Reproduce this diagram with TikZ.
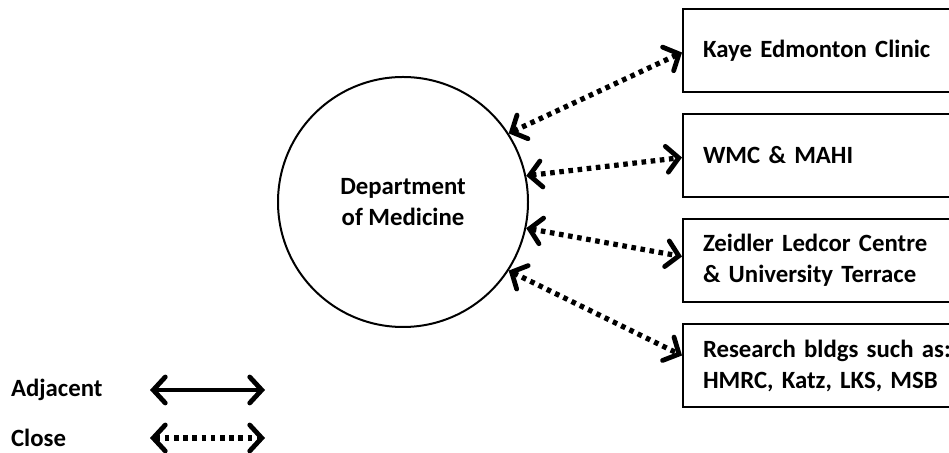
\documentclass[tikz,border=0pt]{standalone}
\usepackage{fontspec}
\setmainfont{Carlito}
\usetikzlibrary{positioning,arrows.meta}

\tikzset{
  place/.style={draw, line width=1pt, minimum height=41.5pt, text width=140pt,
    inner xsep=10pt, align=left, anchor=north west},
  barb/.tip={Straight Barb[length=6pt,width=13pt,line width=2.4pt,line cap=round]},
  dotlink/.style={line width=2.6pt, dash pattern=on 2.3pt off 2.3pt, barb-barb},
  adjlink/.style={line width=2.4pt, barb-barb}
}

\begin{document}
\begin{tikzpicture}[x=0.5pt,y=-0.5pt,font=\fontsize{12.4}{15.5}\selectfont\bfseries]
\useasboundingbox (0,0) rectangle (949,453);

\node[draw, circle, line width=1pt, minimum size=125pt, align=center] (dept) at (403,202) {Department\\of Medicine};

\node[place] (kec) at (682,8) {Kaye Edmonton Clinic};
\node[place, below=10pt of kec.south west, anchor=north west] (wmc) {WMC \& MAHI};
\node[place, below=10pt of wmc.south west, anchor=north west] (zlc) {Zeidler Ledcor Centre\\\& University Terrace};
\node[place, below=10pt of zlc.south west, anchor=north west] (res) {Research bldgs such as:\\HMRC, Katz, LKS, MSB};

\draw[dotlink] (dept.33) -- ([yshift=-1pt]kec.west);
\draw[dotlink] (dept.12) -- ([yshift=-1pt]wmc.west);
\draw[dotlink] (dept.-12) -- ([yshift=2pt]zlc.west);
\draw[dotlink] (dept.-33) -- ([yshift=5pt]res.west);

\node[anchor=west] (adj) at (4,390) {Adjacent};
\node[anchor=west] (cls) at (4,438) {Close};
\coordinate (adjA) at (150,390);
\coordinate (adjB) at (265,390);
\coordinate (clsA) at (150,438);
\coordinate (clsB) at (265,438);
\draw[adjlink] (adjA) -- (adjB);
\draw[dotlink] (clsA) -- (clsB);
\end{tikzpicture}
\end{document}
